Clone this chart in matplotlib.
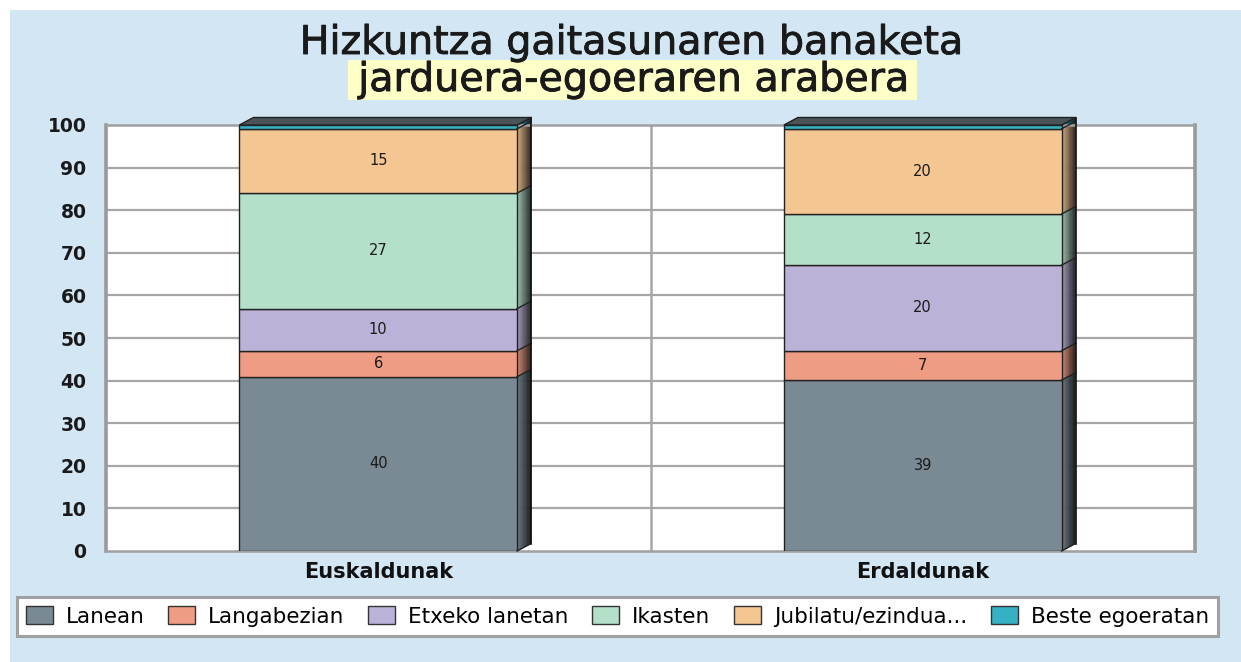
import matplotlib
matplotlib.use("Agg")
import matplotlib.pyplot as plt
import matplotlib.colors as mcolors
import matplotlib.patheffects as pe
from matplotlib.patches import Polygon, Rectangle, Patch
import numpy as np

# Data (percent, 100% stacked)
categories = ["Euskaldunak", "Erdaldunak"]
series = ["Lanean", "Langabezian", "Etxeko lanetan", "Ikasten",
          "Jubilatu/ezindua...", "Beste egoeratan"]
euskaldunak = [40.9, 6.1, 9.9, 27.1, 15.1, 0.9]
erdaldunak = [40.1, 6.9, 20.1, 12.0, 20.0, 0.9]
euskaldunak_labels = ["40", "6", "10", "27", "15", ""]
erdaldunak_labels = ["39", "7", "20", "12", "20", ""]
yticks = [0, 10, 20, 30, 40, 50, 60, 70, 80, 90, 100]

colors = ["#7a8a94", "#ee9c84", "#bcb1d6", "#b4dfc9", "#f4c692", "#35b1c3"]
bg_blue = "#d2e6f4"
grid_col = "#a6a6a6"
edge_col = "#222222"

W, H = 1241, 662
fig = plt.figure(figsize=(W / 100, H / 100), dpi=100)
fig.patch.set_facecolor("white")
fig.patches.append(Rectangle((10 / W, -0.1), 1.2, 0.1 + (H - 10) / H, transform=fig.transFigure,
                             facecolor=bg_blue, edgecolor="none", zorder=-10))

# Title
fig.patches.append(Rectangle((348 / W, (H - 100) / H), 569 / W, 40 / H, transform=fig.transFigure,
                             facecolor="#ffffc8", edgecolor="none", zorder=-5))
thick = [pe.withStroke(linewidth=0.6, foreground="#1a1a1a")]
fig.text(632 / W, (H - 54) / H, "Hizkuntza gaitasunaren banaketa", ha="center", va="baseline",
         fontsize=28.5, color="#1a1a1a", path_effects=thick)
fig.text(634 / W, (H - 91) / H, "jarduera-egoeraren arabera", ha="center", va="baseline",
         fontsize=28.5, color="#1a1a1a", path_effects=thick)

ax = fig.add_axes([106 / W, (H - 551) / H, (1195 - 106) / W, (551 - 125) / H])
ax.set_facecolor("white")
ax.set_xlim(-0.5, 1.5)
ax.set_ylim(0, 100)

# grid
for y in yticks[1:-1]:
    ax.axhline(y, color=grid_col, lw=1.6, zorder=0)
ax.axvline(0.5, color=grid_col, lw=1.8, zorder=0)

for side in ["left", "right"]:
    ax.spines[side].set_color("#9a9a9a")
    ax.spines[side].set_linewidth(2.6)
for side in ["top", "bottom"]:
    ax.spines[side].set_color("#a0a0a0")
    ax.spines[side].set_linewidth(1.8)

ax.set_yticks(yticks)
ax.set_yticklabels([str(v) for v in yticks], fontsize=13.5, fontweight="bold", color="#1a1a1a")
ax.set_xticks(range(len(categories)))
ax.set_xticklabels(categories, fontsize=15, fontweight="bold", color="#111111")
ax.tick_params(axis="y", length=0, pad=14)
ax.tick_params(axis="x", length=0, pad=8)

width = 0.51
px_x = ax.bbox.width / 2.0
px_y = ax.bbox.height / 100.0
dx = 14 / px_x
dy = 7.5 / px_y


def shade(c, f):
    r, g, b = mcolors.to_rgb(c)
    return (r * f, g * f, b * f)


data = [euskaldunak, erdaldunak]
labels = [euskaldunak_labels, erdaldunak_labels]
for i, vals in enumerate(data):
    bottoms = np.concatenate([[0], np.cumsum(vals)[:-1]])
    ax.bar(i, vals, width=width, bottom=bottoms, color=colors, edgecolor=edge_col,
           linewidth=1.0, zorder=3)
    xr = i + width / 2
    xl = i - width / 2
    # side faces with a simple gradient
    nstrip = 10
    for b, v, c in zip(bottoms, vals, colors):
        t = b + v
        for k in range(nstrip):
            f0 = k / nstrip
            f1 = (k + 1) / nstrip
            poly = [(xr + dx * f0, b + dy * f0), (xr + dx * f1, b + dy * f1),
                    (xr + dx * f1, t + dy * f1), (xr + dx * f0, t + dy * f0)]
            col = shade(c, 0.85 - 0.7 * f0)
            ax.add_patch(Polygon(poly, closed=True, facecolor=col, edgecolor=col, lw=0.4,
                                 zorder=2, clip_on=False))
        ax.plot([xr, xr + dx], [t, t + dy], color=edge_col, lw=1.0, zorder=4, clip_on=False)
    # outline of the side face
    top = bottoms[-1] + vals[-1]
    ax.plot([xr + dx, xr + dx], [dy, top + dy], color="#111111", lw=1.2, zorder=4, clip_on=False)
    ax.plot([xr, xr + dx], [0, dy], color=edge_col, lw=1.0, zorder=4, clip_on=False)
    # top face
    poly = [(xl, top), (xl + dx, top + dy), (xr + dx, top + dy), (xr, top)]
    ax.add_patch(Polygon(poly, closed=True, facecolor="#4a5458",
                         edgecolor=edge_col, lw=1.0, zorder=4, clip_on=False))
    # value labels
    for b, v, lab in zip(bottoms, vals, labels[i]):
        if lab:
            ax.text(i, b + v / 2, lab, ha="center", va="center", fontsize=10.5,
                    color="#1a1a1a", zorder=5)

# legend
handles = [Patch(facecolor=c, edgecolor="#333333", linewidth=1.0) for c in colors]
leg = fig.legend(handles, series, loc="upper left", bbox_to_anchor=(17 / W, (H - 597) / H),
                 bbox_transform=fig.transFigure, ncol=6, fontsize=15.5, frameon=True,
                 fancybox=False, borderaxespad=0, borderpad=0.42, handlelength=1.25,
                 handleheight=0.92, handletextpad=0.6, columnspacing=1.1)
leg.get_frame().set_facecolor("white")
leg.get_frame().set_edgecolor("#a0a0a0")
leg.get_frame().set_linewidth(2.2)
leg.get_frame().set_alpha(1)

fig.savefig("out.png", dpi=100, facecolor=fig.get_facecolor())
